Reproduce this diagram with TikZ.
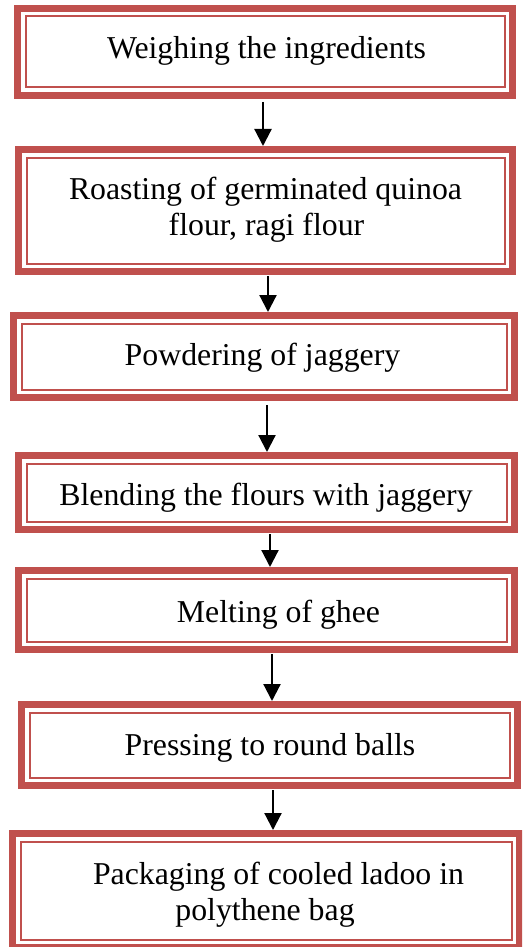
\documentclass[tikz,border=0pt]{standalone}
\usepackage{fontspec}
\setmainfont{Liberation Serif}
\usetikzlibrary{arrows.meta}
\definecolor{framered}{RGB}{192,80,77}
\begin{document}
\begin{tikzpicture}[x=1pt,y=-1pt,
  stepbox/.style={draw=none, inner sep=0pt, outer sep=0pt},
  steptext/.style={inner sep=0pt, anchor=base, font=\fontsize{31.8}{36}\selectfont},
  band/.style={draw=framered, line width=7pt},
  rule/.style={draw=framered, line width=2pt},
  flow/.style={draw=black, line width=2.2pt, -{Triangle[width=17pt,length=17pt]}}]
\useasboundingbox (0,0) rectangle (522,947);
\clip (0,0) rectangle (522,947);

% frames of the process steps
\node[stepbox, minimum width=502pt, minimum height=94pt]    (b1) at (265,52) {};
\node[stepbox, minimum width=501pt, minimum height=129pt]   (b2) at (265.5,210.5) {};
\node[stepbox, minimum width=508pt, minimum height=89pt]    (b3) at (264,356.5) {};
\node[stepbox, minimum width=503pt, minimum height=81pt]    (b4) at (266.5,492.5) {};
\node[stepbox, minimum width=503pt, minimum height=86pt]    (b5) at (266.5,610) {};
\node[stepbox, minimum width=503pt, minimum height=88pt]    (b6) at (269.5,745) {};
\node[stepbox, minimum width=514pt, minimum height=121pt]   (b7) at (266,890.5) {};

\foreach \n in {b1,b2,b3,b4,b5,b6,b7} {
  \draw[band] ([xshift=3.5pt,yshift=-3.5pt]\n.north west) rectangle ([xshift=-3.5pt,yshift=3.5pt]\n.south east);
  \draw[rule] ([xshift=11.5pt,yshift=-11.5pt]\n.north west) rectangle ([xshift=-11.5pt,yshift=11.5pt]\n.south east);
}

% step labels
\node[steptext] (t1)  at (266.5,59)  {Weighing the ingredients};
\node[steptext] (t2a) at (265.5,199) {Roasting of germinated quinoa};
\node[steptext] (t2b) at (266.5,235) {flour, ragi flour};
\node[steptext] (t3)  at (262.5,365) {Powdering of jaggery};
\node[steptext] (t4)  at (266,505)   {Blending the flours with jaggery};
\node[steptext] (t5)  at (278.5,622) {Melting of ghee};
\node[steptext] (t6)  at (270,755)   {Pressing to round balls};
\node[steptext] (t7a) at (278.5,884) {Packaging of cooled ladoo in};
\node[steptext] (t7b) at (265,920)   {polythene bag};

% flow arrows (vertical, slightly off the box centres)
\draw[flow] ([xshift=-2pt,yshift=-3pt]b1.south)  -- ([xshift=-2.5pt]b2.north);
\draw[flow] ([xshift=2.5pt,yshift=-1pt]b2.south) -- ([xshift=4pt]b3.north);
\draw[flow] ([xshift=3pt,yshift=-4pt]b3.south)   -- ([xshift=0.5pt]b4.north);
\draw[flow] ([xshift=3.5pt,yshift=-1pt]b4.south) -- ([xshift=3.5pt]b5.north);
\draw[flow] ([xshift=5.5pt,yshift=-1pt]b5.south) -- ([xshift=2.5pt]b6.north);
\draw[flow] ([xshift=3.5pt,yshift=-1pt]b6.south) -- ([xshift=7pt]b7.north);
\end{tikzpicture}
\end{document}
